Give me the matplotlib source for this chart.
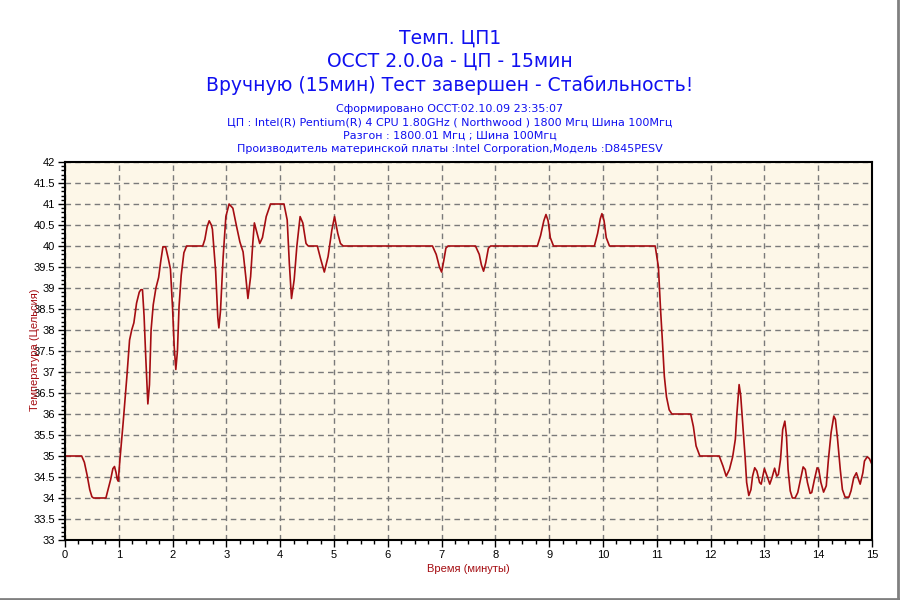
import matplotlib
matplotlib.use('Agg')
import matplotlib.pyplot as plt
from matplotlib.lines import Line2D
from matplotlib.ticker import FuncFormatter, MultipleLocator

# time (minutes) / CPU temperature (Celsius)
time_min = [
	0.00, 0.31, 0.36, 0.41, 0.46, 0.50, 0.53, 0.76, 0.80, 0.85,
	0.89, 0.92, 0.95, 0.97, 0.99, 1.02, 1.08, 1.15, 1.20, 1.24,
	1.28, 1.33, 1.38, 1.41, 1.44, 1.47, 1.50, 1.54, 1.57, 1.60,
	1.64, 1.69, 1.74, 1.78, 1.82, 1.87, 1.92, 1.96, 2.00, 2.03,
	2.06, 2.09, 2.12, 2.16, 2.21, 2.26, 2.56, 2.60, 2.64, 2.68,
	2.72, 2.74, 2.80, 2.84, 2.86, 2.89, 2.94, 2.99, 3.05, 3.12,
	3.19, 3.25, 3.31, 3.36, 3.40, 3.45, 3.49, 3.52, 3.57, 3.62,
	3.67, 3.74, 3.82, 4.07, 4.13, 4.17, 4.21, 4.26, 4.31, 4.37,
	4.42, 4.48, 4.52, 4.69, 4.75, 4.82, 4.89, 4.96, 5.01, 5.07,
	5.12, 5.17, 6.83, 6.90, 6.96, 7.00, 7.04, 7.08, 7.12, 7.63,
	7.70, 7.74, 7.78, 7.82, 7.87, 7.91, 8.78, 8.84, 8.90, 8.94,
	8.98, 9.02, 9.08, 9.84, 9.90, 9.95, 9.98, 10.02, 10.06, 10.12,
	10.97, 11.03, 11.07, 11.10, 11.14, 11.18, 11.23, 11.28, 11.63, 11.68,
	11.73, 11.80, 12.16, 12.23, 12.29, 12.35, 12.41, 12.46, 12.49, 12.53,
	12.56, 12.60, 12.64, 12.67, 12.71, 12.75, 12.78, 12.82, 12.86, 12.91,
	12.94, 12.97, 13.00, 13.05, 13.10, 13.14, 13.19, 13.23, 13.26, 13.30,
	13.34, 13.38, 13.41, 13.44, 13.48, 13.52, 13.57, 13.62, 13.67, 13.72,
	13.76, 13.80, 13.85, 13.88, 13.93, 13.98, 14.01, 14.05, 14.10, 14.15,
	14.19, 14.24, 14.29, 14.32, 14.36, 14.41, 14.45, 14.50, 14.57, 14.61,
	14.66, 14.71, 14.75, 14.78, 14.83, 14.86, 14.91, 14.95, 15.00
]
temp_c = [
	35.0, 35.0, 34.85, 34.55, 34.2, 34.03, 34.0, 34.0, 34.2, 34.45,
	34.7, 34.75, 34.6, 34.45, 34.4, 34.9, 35.78, 36.89, 37.76, 38.0,
	38.17, 38.64, 38.9, 38.96, 38.96, 38.33, 37.38, 36.24, 36.7, 38.0,
	38.6, 39.0, 39.25, 39.64, 39.98, 39.98, 39.7, 39.45, 38.5, 37.6,
	37.06, 37.5, 38.56, 39.3, 39.84, 40.0, 40.0, 40.16, 40.45, 40.6,
	40.5, 40.4, 39.4, 38.3, 38.05, 38.45, 39.75, 40.7, 41.0, 40.9,
	40.46, 40.1, 39.86, 39.27, 38.75, 39.27, 40.06, 40.55, 40.3, 40.06,
	40.2, 40.7, 41.0, 41.0, 40.62, 39.58, 38.75, 39.2, 40.0, 40.7,
	40.55, 40.06, 40.0, 40.0, 39.7, 39.38, 39.75, 40.38, 40.7, 40.3,
	40.06, 40.0, 40.0, 39.8, 39.5, 39.38, 39.65, 39.95, 40.0, 40.0,
	39.8, 39.55, 39.4, 39.6, 39.95, 40.0, 40.0, 40.25, 40.6, 40.75,
	40.6, 40.2, 40.0, 40.0, 40.3, 40.65, 40.77, 40.6, 40.2, 40.0,
	40.0, 39.5, 38.48, 37.83, 36.9, 36.41, 36.1, 36.0, 36.0, 35.7,
	35.24, 35.0, 35.0, 34.76, 34.52, 34.68, 34.98, 35.4, 36.03, 36.7,
	36.43, 35.71, 35.0, 34.37, 34.06, 34.2, 34.52, 34.72, 34.64, 34.37,
	34.33, 34.52, 34.7, 34.52, 34.33, 34.48, 34.71, 34.52, 34.56, 34.92,
	35.63, 35.83, 35.48, 34.68, 34.17, 34.0, 34.0, 34.13, 34.44, 34.74,
	34.68, 34.37, 34.11, 34.13, 34.44, 34.72, 34.68, 34.37, 34.14, 34.29,
	34.92, 35.56, 35.95, 35.87, 35.4, 34.68, 34.2, 34.02, 34.02, 34.17,
	34.48, 34.6, 34.44, 34.33, 34.6, 34.88, 34.98, 34.94, 34.8
]

title_lines = [
	'Темп. ЦП1',
	'OCCT 2.0.0a - ЦП - 15мин',
	'Вручную (15мин) Тест завершен - Стабильность!',
]
info_lines = [
	'Сформировано OCCT:02.10.09 23:35:07',
	'ЦП : Intel(R) Pentium(R) 4 CPU 1.80GHz ( Northwood ) 1800 Мгц Шина 100Мгц',
	'Разгон : 1800.01 Мгц ; Шина 100Мгц',
	'Производитель материнской платы :Intel Corporation,Модель :D845PESV',
]


def y_label_value(v, pos) -> str:
	return '{:g}'.format(round(v, 1))


if __name__ == '__main__':
	fig = plt.figure(figsize=(9, 6), dpi=100)
	ax = fig.add_axes([65 / 900, 60 / 600, 807 / 900, 378 / 600])
	ax.set_facecolor('#fdf7e8')

	ax.plot(time_min, temp_c, '-', color='#a50d12', linewidth=1.2)

	ax.set_xlim(0, 15)
	ax.set_ylim(33, 42)
	ax.xaxis.set_major_locator(MultipleLocator(1))
	ax.xaxis.set_minor_locator(MultipleLocator(0.25))
	ax.yaxis.set_major_locator(MultipleLocator(0.5))
	ax.yaxis.set_minor_locator(MultipleLocator(0.1))
	ax.yaxis.set_major_formatter(FuncFormatter(y_label_value))
	ax.tick_params(which='major', direction='out', length=5, width=1, labelsize=8, pad=2)
	ax.tick_params(which='minor', direction='out', length=3, width=1)
	for lbl in ax.get_xticklabels() + ax.get_yticklabels():
		lbl.set_family('Liberation Sans')
	ax.grid(True, which='major', color='#7a7a7a', linestyle=(0, (4, 3)), linewidth=1)
	for s in ax.spines.values():
		s.set_linewidth(1.5)

	ax.set_xlabel('Время (минуты)', color='#a50d12', fontsize=8, family='Liberation Sans', labelpad=3)
	# the reference draws this label right over the tick numbers
	fig.text(35 / 900, 1 - 350 / 600, 'Температура (Цельсия)', color='#a50d12', fontsize=8,
		family='Liberation Sans', rotation=90, ha='center', va='center')

	for i, t in enumerate(title_lines):
		fig.text(0.5, 1 - (38 + 23.5 * i) / 600, t, color='#1010f0', fontsize=13.5, ha='center', va='center')
	for i, t in enumerate(info_lines):
		fig.text(0.5, 1 - (109 + 13.5 * i) / 600, t, color='#1010f0', fontsize=8, ha='center', va='center')

	# grey 3d-ish border on the right and bottom of the picture
	fig.add_artist(Line2D([0.998, 0.998], [0.0, 1.0], color='#808080', linewidth=2, transform=fig.transFigure))
	fig.add_artist(Line2D([0.0, 1.0], [0.002, 0.002], color='#808080', linewidth=2, transform=fig.transFigure))

	plt.savefig('out.png', dpi=100)
